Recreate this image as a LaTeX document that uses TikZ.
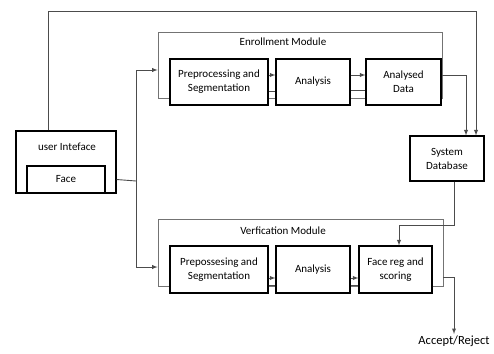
\documentclass[tikz,border=0pt]{standalone}
\usepackage{fontspec}
\setmainfont{Carlito}
\usetikzlibrary{arrows,calc}

\begin{document}
\begin{tikzpicture}[x=1pt,y=-1pt,>=latex,
  font=\fontsize{11}{14}\selectfont,
  blk/.style={draw,line width=1.1pt,fill=white,align=center,inner sep=0pt},
  modul/.style={draw=black!55,line width=0.8pt,inner sep=0pt},
  link/.style={draw=black!70,line width=0.9pt}]

\useasboundingbox (0,0) rectangle (494,353);

% module frames
\node[modul,minimum width=284pt,minimum height=66pt] (enr) at (300,65) {};
\node[modul,minimum width=285pt,minimum height=67pt] (ver) at (300.5,252.5) {};
\node (enrt) at (283,42) {Enrollment Module};
\node (vert) at (283,231) {Verfication Module};

% blocks
\node[blk,minimum width=98pt,minimum height=46pt] (pre1) at (219,82) {Preprocessing and\\Segmentation};
\node[blk,minimum width=74pt,minimum height=46pt] (ana1) at (313,82) {Analysis};
\node[blk,minimum width=75pt,minimum height=46pt] (adat) at (403.5,82) {Analysed\\Data};
\node[blk,minimum width=74pt,minimum height=45pt] (db) at (447,158.5) {System\\Database};
\node[blk,minimum width=100pt,minimum height=62pt] (ui) at (66,162) {};
\node (uit) at (67,147) {user Inteface};
\node[blk,minimum width=78pt,minimum height=27pt] (face) at (66,179.5) {Face};
\node[blk,minimum width=98pt,minimum height=47pt] (pre2) at (219,269.5) {Prepossesing and\\Segmentation};
\node[blk,minimum width=74pt,minimum height=47pt] (ana2) at (313,269.5) {Analysis};
\node[blk,minimum width=73pt,minimum height=47pt] (frs) at (395.5,269.5) {Face reg and\\scoring};
\node[anchor=north,inner sep=2pt,font=\fontsize{12.5}{14}\selectfont] (acc) at (454,334) {Accept/Reject};

\coordinate (top) at (476,11);
\coordinate (sp) at (136,181);
\coordinate (dbl) at (399,225);

% connectors
\draw[link,->] ($(ui.north west)+(33,0)$) |- (top) -- (db.north -| top);
\draw[link,->] ($(adat.east)+(0,-7)$) -| ($(db.north)+(19,0)$);
\draw[link] (face.east -| ui.east) -- (sp);
\draw[link,->] (sp) |- ($(enr.west)+(0,5)$);
\draw[link,->] (sp) |- ($(ver.west)+(0,14.5)$);

\draw[link,->] ($(pre1.east)+(0,-7)$) -- ($(ana1.west)+(0,-7)$);
\draw[link] ($(pre1.east)+(0,9)$) -- ($(ana1.west)+(0,9)$);
\draw[link,->] ($(ana1.east)+(0,-7)$) -- ($(adat.west)+(0,-7)$);
\draw[link] ($(ana1.east)+(0,8)$) -- ($(adat.west)+(0,8)$);

\draw[link,->] ($(pre2.east)+(0,8.5)$) -- ($(ana2.west)+(0,8.5)$);
\draw[link] ($(pre2.east)+(0,15.5)$) -- ($(ana2.west)+(0,15.5)$);
\draw[link,->] ($(ana2.east)+(0,8.5)$) -- ($(frs.west)+(0,8.5)$);
\draw[link] ($(ana2.east)+(0,15.5)$) -- ($(frs.west)+(0,15.5)$);

\draw[link,->] ($(db.south)+(7,0)$) |- (dbl) -- (frs.north -| dbl);
\draw[link,->] ($(ver.east)+(0,24.5)$) -| (acc.north);
\end{tikzpicture}
\end{document}
